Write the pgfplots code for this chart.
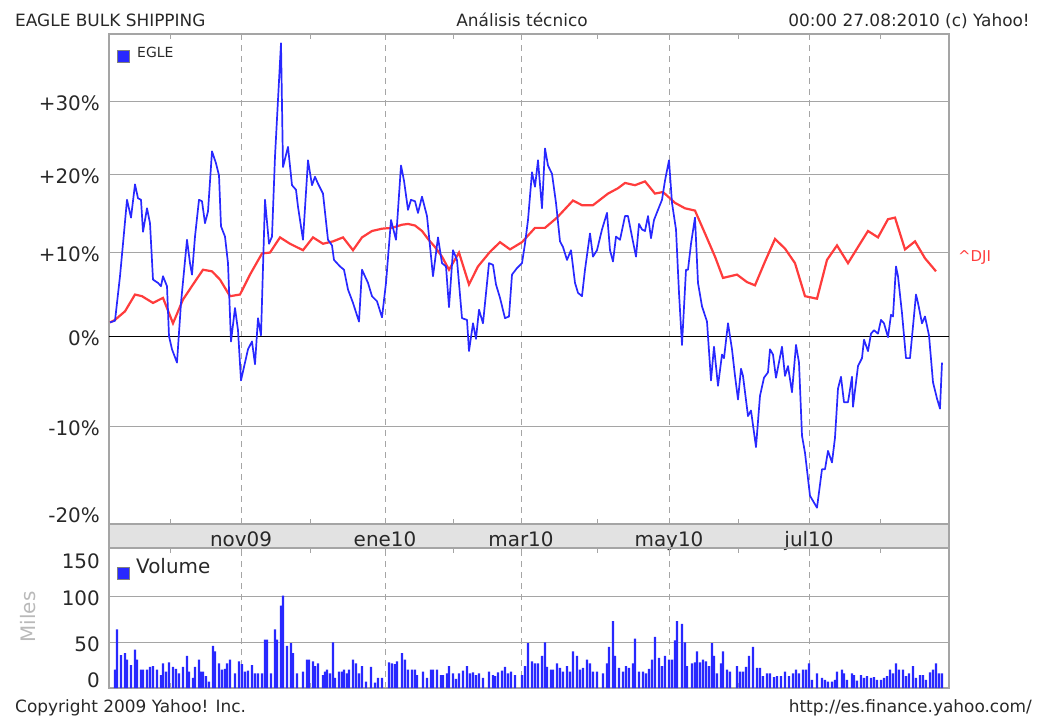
\documentclass[border=0pt]{standalone}
\usepackage{fontspec}
\setmainfont{DejaVu Sans}
\usepackage{pgfplots}
\pgfplotsset{compat=1.18}
\usepackage{pgfplotstable}

\definecolor{eblue}{RGB}{40,40,255}
\definecolor{dred}{RGB}{255,60,60}
\definecolor{frame}{RGB}{165,165,165}
\definecolor{band}{RGB}{226,226,226}
\definecolor{txt}{RGB}{40,40,40}

% x = horizontal date position, p = change in %
\pgfplotstableread{
x p
110 1.6
115 1.8
120 7.1
123 11.1
127 16.7
131 14.4
135 18.7
138 16.9
141 16.7
143 12.6
147 15.6
150 13.7
153 6.7
158 6.3
161 5.9
163 7.1
167 5.9
169 0.0
172 -1.5
177 -3.0
181 3.9
187 11.6
190 8.7
192 7.3
195 12.0
199 16.7
202 16.5
205 13.7
208 15.2
212 23.1
216 21.5
219 19.9
221 13.3
225 12.0
228 8.7
231 -0.6
235 3.3
238 0.7
241 -5.0
245 -3.0
248 -1.5
252 -0.6
255 -3.2
258 2.1
261 0.1
265 16.7
269 11.1
272 12.0
275 22.4
281 38.4
283 21.0
288 23.7
292 18.6
296 18.0
298 15.8
303 11.6
308 21.9
312 18.6
315 19.7
318 18.8
323 17.5
328 11.6
332 10.9
334 9.1
340 8.3
344 7.9
348 5.5
353 3.9
359 1.7
362 7.9
368 6.3
372 4.7
377 4.1
382 2.2
386 6.3
391 14.1
396 11.6
401 21.2
404 19.2
408 15.4
411 16.7
415 16.5
418 15.0
422 17.1
427 14.6
433 7.1
438 11.9
442 8.7
446 8.3
449 3.4
453 10.3
457 9.1
462 2.1
467 1.9
469 -1.7
473 1.5
476 -0.3
479 3.1
483 1.5
489 8.7
493 8.5
496 6.1
500 4.5
505 2.1
509 2.3
512 7.3
517 8.1
522 8.7
525 11.1
528 14.1
532 20.3
535 18.4
538 21.9
542 15.6
545 23.5
548 21.2
552 20.1
556 16.3
560 11.4
563 10.7
567 9.1
571 10.3
575 6.3
578 5.1
582 4.7
585 7.9
590 12.4
593 9.5
597 10.3
602 12.9
607 15.0
610 10.3
613 8.9
616 12.0
620 11.6
625 14.6
628 14.6
632 12.0
636 9.5
639 13.6
642 12.9
645 12.7
648 14.6
651 11.8
654 14.1
658 15.4
662 16.7
665 19.2
669 21.9
672 16.3
676 12.9
679 5.1
682 -1.0
686 7.9
688 7.9
691 11.1
695 14.4
698 6.3
702 3.5
707 1.7
711 -5.0
714 -1.2
718 -5.6
722 -2.1
724 -2.5
728 1.5
732 -1.5
735 -4.5
738 -7.1
741 -3.7
743 -4.5
748 -8.9
751 -8.3
756 -12.2
760 -6.7
764 -4.7
768 -4.1
770 -1.5
773 -2.1
776 -4.7
782 -1.2
785 -4.5
788 -3.4
792 -6.3
796 -1.0
799 -3.0
802 -11.0
805 -12.8
810 -17.2
817 -18.4
822 -14.5
825 -14.5
828 -12.6
832 -13.8
835 -11.2
838 -5.9
841 -4.6
844 -7.4
848 -7.4
852 -4.6
853 -7.9
858 -3.4
862 -2.5
864 -0.4
868 -1.7
871 0.3
874 0.7
878 0.3
881 1.9
884 1.5
888 -0.1
891 2.5
893 2.3
896 8.3
898 7.1
902 2.7
906 -2.5
910 -2.5
916 4.9
918 3.9
922 1.5
925 2.3
929 0.1
933 -5.2
937 -7.0
940 -8.1
942 -3.0
}\egle

\pgfplotstableread{
x p
110 1.6
115 1.9
125 2.9
135 4.9
142 4.7
153 3.9
163 4.5
173 1.5
183 4.3
193 6.1
203 7.9
212 7.7
220 6.7
230 4.7
240 4.9
250 7.3
262 9.9
270 10.0
280 11.9
290 11.1
303 10.3
313 11.9
323 11.1
333 11.4
343 11.9
353 10.3
362 11.9
372 12.7
382 13.0
392 13.1
402 13.5
408 13.6
415 13.4
422 12.7
428 11.7
435 10.7
442 9.5
449 7.9
459 10.0
469 6.1
478 8.3
490 10.1
500 11.3
510 10.4
522 11.3
535 13.1
545 13.1
557 14.4
573 16.6
582 16.0
593 16.0
608 17.5
618 18.2
625 18.9
635 18.6
645 19.1
655 17.5
663 17.7
675 16.3
685 15.6
695 15.3
705 12.4
715 9.5
723 6.9
737 7.3
747 6.4
755 6.0
765 8.9
775 11.7
785 10.5
795 8.7
805 4.7
817 4.4
827 9.1
837 10.9
848 8.7
858 10.7
868 12.7
878 11.9
888 14.2
895 14.4
905 10.4
915 11.4
925 9.3
936 7.7
}\dji

% volume in thousands
\pgfplotstableread{
x v
115 20
117 64
121 36
125 38
127 31
131 25
135 42
137 31
141 20
143 20
147 20
150 23
153 24
157 20
161 14
163 27
166 18
169 28
173 23
176 21
179 16
183 23
187 35
189 18
193 11
195 23
199 31
201 18
203 18
206 13
209 7
213 46
215 40
219 27
222 20
225 21
227 27
230 31
235 16
239 29
242 26
245 18
248 19
252 25
255 16
258 16
262 16
265 53
267 53
271 16
275 64
277 53
281 90
283 101
287 46
291 49
293 38
297 16
303 18
307 31
309 31
313 29
315 24
318 27
323 14
325 18
327 20
330 16
333 50
335 11
339 18
342 18
344 20
347 16
349 20
353 31
356 27
359 16
362 24
366 7
371 23
375 6
378 11
382 11
389 28
392 27
395 26
397 29
402 38
405 31
408 20
412 20
415 20
417 14
423 18
427 11
431 20
433 20
437 20
441 14
443 14
447 16
449 24
453 16
456 10
459 16
463 19
467 24
470 16
473 17
476 14
479 16
483 11
489 18
493 14
495 13
498 17
502 19
505 23
508 16
511 18
515 14
522 14
525 24
528 49
532 29
535 27
538 27
542 35
545 50
547 23
551 20
553 20
557 27
560 22
563 18
567 24
570 18
573 40
577 35
580 20
583 22
587 31
590 27
593 18
597 18
603 16
607 27
609 45
613 73
615 35
619 22
623 18
626 24
629 22
633 27
635 54
639 18
643 18
646 16
649 21
652 31
655 56
659 33
662 24
665 35
669 31
672 31
675 52
677 73
682 70
685 50
687 24
692 27
695 28
697 40
700 28
703 31
706 29
709 24
712 49
714 35
717 16
721 27
723 40
727 20
730 18
737 24
740 18
743 18
746 23
749 35
753 45
757 22
760 22
763 13
767 16
770 16
774 12
777 13
781 13
785 18
789 13
793 16
796 20
799 16
803 20
806 20
809 27
812 9
817 16
822 11
825 9
828 7
832 7
835 9
837 18
842 20
844 16
847 9
852 16
854 14
857 8
861 14
864 11
867 13
871 11
874 12
877 9
881 9
884 11
887 13
890 20
893 16
896 27
899 20
903 20
906 13
909 16
913 24
916 11
920 14
923 14
926 9
930 17
933 20
936 27
939 16
942 16
}\vol

\pgfplotsset{
  yahoo/.style={
    scale only axis, width=840bp, anchor=north west,
    xmin=109, xmax=949,
    axis line style={frame, line width=1.5bp},
    xtick={241,385,521,669,809},
    minor xtick={170,310,453,597,738,880},
    xmajorgrids, ymajorgrids,
    grid style={frame, line width=1.2bp},
    x grid style={dash pattern=on 6bp off 5bp, line width=1bp},
    major tick length=5bp, minor tick length=5bp,
    xtick style={frame, line width=1bp},
    ytick style={draw=none},
    ticklabel style={font=\fontsize{20}{24}\selectfont, text=txt},
    yticklabel style={inner sep=0pt, xshift=-9bp, yshift=-2bp},
  }
}

\begin{document}
\begin{tikzpicture}
\useasboundingbox (0,0) rectangle (1048bp,-717bp);

\fill[band] (109bp,-524bp) rectangle (949bp,-548bp);

\begin{axis}[yahoo,
  at={(109bp,-34bp)}, height=490bp,
  ymode=log, ymin=115, ymax=174.8,
  ytick={115,125,145,155,165},
  yticklabels={,-10\%,+10\%,+20\%,+30\%},
  extra y ticks={135}, extra y tick labels={0\%},
  extra y tick style={grid style={black, line width=1.2bp}},
  xticklabels={nov09,ene10,mar10,may10,jul10},
  xticklabel style={anchor=base, yshift=-23bp},
]
\addplot[dred, line width=2.2bp] table[x=x, y expr=\thisrow{p}+135] {\dji};
\addplot[eblue, line width=1.7bp, line join=round] table[x=x, y expr=\thisrow{p}+135] {\egle};
\end{axis}

\begin{axis}[yahoo,
  at={(109bp,-548bp)}, height=140bp,
  ymin=0, ymax=153,
  ytick={50,100}, yticklabels={50,100},
  xticklabels={},
]
\addplot[ybar, bar width=2.2bp, fill=eblue, draw=none] table[x=x, y=v] {\vol};
\end{axis}

\draw[frame, line width=1.5bp] (109bp,-524bp) rectangle (949bp,-548bp);

\begin{scope}[font=\fontsize{20}{24}\selectfont, text=txt]
\node[anchor=south east, inner sep=0pt] at (100bp,-522.5bp) {-20\%};
\node[anchor=north east, inner sep=0pt] at (100bp,-554bp) {150};
\node[anchor=south east, inner sep=0pt] at (100bp,-688bp) {0};
\node[anchor=base west, inner sep=0pt] at (136bp,-573bp) {Volume};
\end{scope}
\node[rotate=90, inner sep=0pt, text=gray!55, font=\fontsize{20}{24}\selectfont] at (28bp,-617bp) {Miles};

% legends
\fill[eblue, draw=gray] (117bp,-50bp) rectangle (129bp,-62bp);
\node[anchor=base west, inner sep=0pt, text=txt, font=\fontsize{14}{16}\selectfont] at (137bp,-57bp) {EGLE};
\fill[eblue, draw=gray] (117bp,-567bp) rectangle (129bp,-579bp);
\node[anchor=base west, inner sep=0pt, text=dred, font=\fontsize{15}{17}\selectfont] at (958bp,-261bp) {\^{}DJI};

% header and footer
\begin{scope}[font=\fontsize{17}{20}\selectfont, text=txt]
\node[anchor=base west, inner sep=0pt] at (15bp,-26bp) {EAGLE BULK SHIPPING};
\node[anchor=base, inner sep=0pt] at (522bp,-26bp) {Análisis técnico};
\node[anchor=base east, inner sep=0pt] at (1030bp,-26bp) {00:00 27.08:2010 (c) Yahoo!};
\node[anchor=base west, inner sep=0pt] at (15bp,-712bp) {Copyright 2009 Yahoo! Inc.};
\node[anchor=base east, inner sep=0pt] at (1032bp,-712bp) {http://es.finance.yahoo.com/};
\end{scope}
\end{tikzpicture}
\end{document}
